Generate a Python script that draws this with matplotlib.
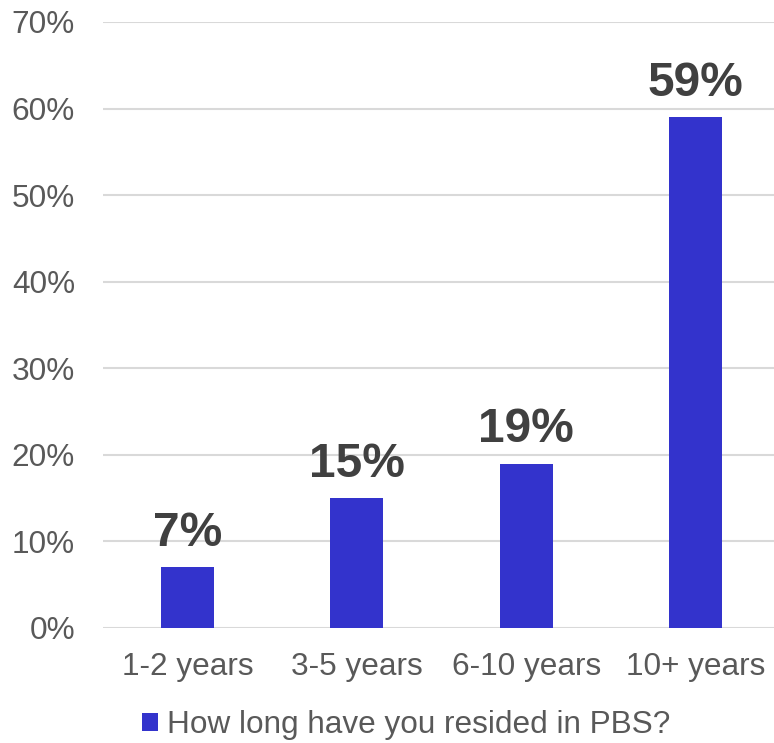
import matplotlib.pyplot as plt
from matplotlib.ticker import PercentFormatter

categories = ['1-2 years', '3-5 years', '6-10 years', '10+ years']
shares = [0.07, 0.15, 0.19, 0.59]
series_name = 'How long have you resided in PBS?'

plt.rcParams['font.family'] = ['Liberation Sans', 'DejaVu Sans']

fig = plt.figure(figsize=(7.74, 7.43), dpi=100)
ax = fig.add_axes([0.1328, 0.1548, 0.8752, 0.8156])

bars = ax.bar(range(len(categories)), shares, width=0.313, color='#3333CC',
              label=series_name, zorder=3)

for x, v in zip(range(len(categories)), shares):
    ax.annotate('%d%%' % round(v * 100), (x, v), xytext=(0, 8),
                textcoords='offset points', ha='center', va='bottom',
                fontsize=34.5, fontweight='bold', color='#404040')

ax.set_xlim(-0.5, len(categories) - 0.5)
ax.set_ylim(0, 0.70)
ax.set_yticks([i / 10 for i in range(8)])
ax.yaxis.set_major_formatter(PercentFormatter(1.0, decimals=0))
ax.set_xticks(range(len(categories)))
ax.set_xticklabels(categories)
ax.tick_params(axis='both', length=0, labelsize=22.7, labelcolor='#595959')
ax.tick_params(axis='y', pad=20)
ax.tick_params(axis='x', pad=17)
ax.yaxis.grid(True, color='#D9D9D9', linewidth=1.5, zorder=0)
for s in ax.spines.values():
    s.set_visible(False)

fig.legend(handles=[bars], labels=[series_name], loc='center',
           bbox_to_anchor=(0.525, 0.024), frameon=False, fontsize=22.7,
           labelcolor='#595959', handlelength=0.5, handleheight=0.5,
           handletextpad=0.3)

fig.savefig('out.png', dpi=100)
